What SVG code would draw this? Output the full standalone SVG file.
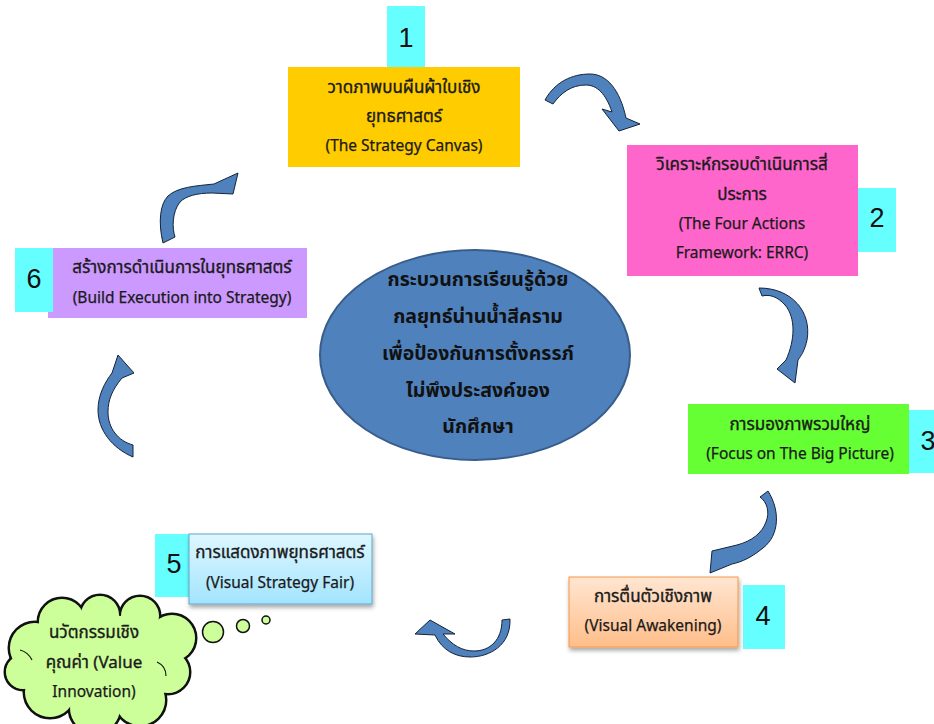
<svg xmlns="http://www.w3.org/2000/svg" width="934" height="724" viewBox="0 0 934 724">
<defs>
<linearGradient id="g4" x1="0" y1="0" x2="0" y2="1"><stop offset="0" stop-color="#FFE6D2"/><stop offset="1" stop-color="#FFBE8A"/></linearGradient>
<linearGradient id="g5" x1="0" y1="0" x2="0" y2="1"><stop offset="0" stop-color="#DEF7FF"/><stop offset="1" stop-color="#A3E4FF"/></linearGradient>
<filter id="sh" x="-10%" y="-10%" width="125%" height="130%"><feDropShadow dx="1" dy="3" stdDeviation="2" flood-color="#000" flood-opacity="0.35"/></filter>
<style>
.t{font-family:"Noto Sans Thai","Noto Sans","Liberation Sans","DejaVu Sans",sans-serif;font-size:15.5px;fill:#1a1a1a;stroke:#1a1a1a;stroke-width:0.25;text-anchor:middle}
.th{font-size:17px;stroke-width:0.35}
.c{font-family:"Noto Sans Thai","Noto Sans","Liberation Sans","DejaVu Sans",sans-serif;font-size:19.5px;font-weight:bold;fill:#111;text-anchor:middle}
.n{font-family:"Liberation Sans","Noto Sans",sans-serif;font-size:27px;fill:#111;text-anchor:middle}
.num{fill:#66FFFF}
.arr{fill:#4F81BD;stroke:#14243a;stroke-width:1;stroke-linejoin:miter}
</style>
</defs>
<rect width="934" height="724" fill="#fff"/>

<g id="connectors">
<path class="arr" d="M545,100 C555,82 572,74 590,74 C607,74 620,90 626,118 L640,124 L619,131 L602,109 L612,112 C606,94 597,85 586,85 C571,85 561,93 553,104 Z"/>
<path class="arr" d="M759,288 C792,288 812,312 807,340 C805,350 801,356 798,360 L795,383 L777,369 L786,360 C795,340 796,318 785,305 C778,297 770,294 762,296 Z"/>
<path class="arr" d="M768,491 C780,510 780,535 763,548 C752,557 742,562 732,564 L710,573 L712,551 L737,545 C752,541 762,533 766,522 C770,512 767,502 760,497 Z"/>
<path class="arr" d="M510,619 C511,645 490,657 470,657 C455,657 442,650 435,635 L415,634 L430,620 L455,634 L443,634 C452,645 462,651 474,651 C490,651 502,640 502,620 Z"/>
<path class="arr" d="M133,457 C112,448 98,430 98,410 C98,395 105,382 112,373 L118,355 L134,373 L122,378 C112,390 108,400 108,412 C108,428 118,441 133,445 Z"/>
<path class="arr" d="M163,243 C158,222 160,204 168,196 C178,187 195,186 214,184 L238,173 L233,194 L212,193 C197,193 186,196 180,202 C172,212 172,228 175,237 Z"/>
</g>

<g id="center">
<ellipse cx="475" cy="355" rx="155" ry="105" fill="#4F81BD" stroke="#385D8A" stroke-width="2"/>
<text class="c" x="478" y="286">กระบวนการเรียนรู้ด้วย</text>
<text class="c" x="478" y="323">กลยุทธ์น่านน้ำสีคราม</text>
<text class="c" x="478" y="360">เพื่อป้องกันการตั้งครรภ์</text>
<text class="c" x="478" y="397">ไม่พึงประสงค์ของ</text>
<text class="c" x="478" y="433">นักศึกษา</text>
</g>

<g id="node1">
<rect x="288" y="67" width="232" height="100" fill="#FFCC00"/>
<rect class="num" x="387" y="6" width="38" height="61"/>
<text class="n" x="406" y="47">1</text>
<text class="t th" x="404" y="93">วาดภาพบนผืนผ้าใบเชิง</text>
<text class="t th" x="404" y="122">ยุทธศาสตร์</text>
<text class="t" x="404" y="151">(The Strategy Canvas)</text>
</g>

<g id="node2">
<rect x="627" y="145" width="231" height="131" fill="#FF66CC"/>
<rect class="num" x="858" y="188" width="38" height="64"/>
<text class="n" x="877" y="227">2</text>
<text class="t th" x="742" y="170">วิเคราะห์กรอบดำเนินการสี่</text>
<text class="t th" x="742" y="200">ประการ</text>
<text class="t" x="742" y="229">(The Four Actions</text>
<text class="t" x="742" y="258">Framework: ERRC)</text>
</g>

<g id="node3">
<rect x="688" y="404" width="221" height="70" fill="#66FF33"/>
<rect class="num" x="909" y="410" width="25" height="63"/>
<text class="n" x="928" y="450">3</text>
<text class="t th" x="800" y="430">การมองภาพรวมใหญ่</text>
<text class="t" x="800" y="459">(Focus on The Big Picture)</text>
</g>

<g id="node4">
<rect class="num" x="743" y="585" width="42" height="64"/>
<text class="n" x="763" y="625">4</text>
<rect x="569" y="577" width="169" height="70" fill="url(#g4)" stroke="#F79646" stroke-width="1" filter="url(#sh)"/>
<text class="t th" x="653" y="602">การตื่นตัวเชิงภาพ</text>
<text class="t" x="653" y="631">(Visual Awakening)</text>
</g>

<g id="node5">
<rect class="num" x="155" y="534" width="36" height="63"/>
<text class="n" x="174" y="573">5</text>
<rect x="189" y="534" width="183" height="70" fill="url(#g5)" stroke="#5BA8CC" stroke-width="1" filter="url(#sh)"/>
<text class="t th" x="280" y="558">การแสดงภาพยุทธศาสตร์</text>
<text class="t" x="280" y="588">(Visual Strategy Fair)</text>
</g>

<g id="node6">
<rect x="48" y="248" width="259" height="70" fill="#CC99FF"/>
<rect class="num" x="15" y="248" width="38" height="64"/>
<text class="n" x="34" y="288">6</text>
<text class="t th" x="182" y="273">สร้างการดำเนินการในยุทธศาสตร์</text>
<text class="t" x="182" y="303">(Build Execution into Strategy)</text>
</g>

<g id="cloud">
<g stroke="#111" stroke-width="3" fill="#CCFF99">
<circle cx="35" cy="648" r="26"/>
<circle cx="62" cy="622" r="24"/>
<circle cx="100" cy="615" r="20"/>
<circle cx="140" cy="616" r="20"/>
<circle cx="172" cy="638" r="24"/>
<circle cx="168" cy="672" r="22"/>
<circle cx="140" cy="700" r="26"/>
<circle cx="95" cy="708" r="26"/>
<circle cx="50" cy="692" r="26"/>
<circle cx="23" cy="672" r="18"/>
</g>
<g fill="#CCFF99">
<circle cx="35" cy="648" r="25"/>
<circle cx="62" cy="622" r="23"/>
<circle cx="100" cy="615" r="19"/>
<circle cx="140" cy="616" r="19"/>
<circle cx="172" cy="638" r="23"/>
<circle cx="168" cy="672" r="21"/>
<circle cx="140" cy="700" r="25"/>
<circle cx="95" cy="708" r="25"/>
<circle cx="50" cy="692" r="25"/>
<circle cx="23" cy="672" r="17"/>
<ellipse cx="100" cy="662" rx="72" ry="48"/>
</g>
<g fill="none" stroke="#111" stroke-width="1.2">
<path d="M157,662 Q166,666 166,676"/>
<path d="M20,650 Q28,652 32,660"/>
</g>
<g fill="#CCFF99" stroke="#111" stroke-width="1.5">
<circle cx="213" cy="632" r="10.5"/>
<circle cx="243" cy="626" r="6.5"/>
<circle cx="266" cy="620" r="4"/>
</g>
<text class="t th" x="94" y="638">นวัตกรรมเชิง</text>
<text class="t th" x="94" y="668">คุณค่า (Value</text>
<text class="t" x="94" y="697">Innovation)</text>
</g>
</svg>
